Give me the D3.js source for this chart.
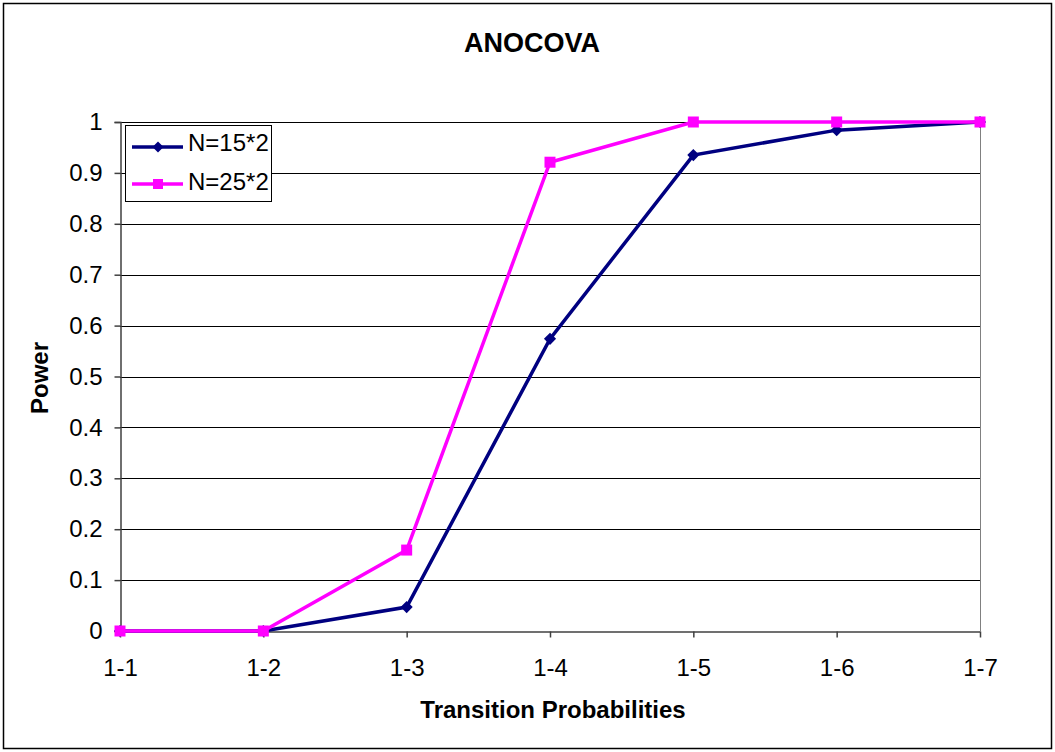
<!DOCTYPE html>
<html>
<head>
<meta charset="utf-8">
<script src="https://cdn.jsdelivr.net/npm/d3@7"></script>
<style>
  body { margin: 0; background: #fff; }
  text { font-family: Arial, "Liberation Sans", sans-serif; }
</style>
</head>
<body>
<div id="chart"></div>
<script>
// Data
const categories = ['1-1', '1-2', '1-3', '1-4', '1-5', '1-6', '1-7'];
const n15 = [0, 0, 0.047, 0.574, 0.935, 0.984, 1.0];
const n25 = [0, 0, 0.159, 0.921, 1.0, 1.0, 1.0];
const yTicks = [0, 0.1, 0.2, 0.3, 0.4, 0.5, 0.6, 0.7, 0.8, 0.9, 1];

const series = [
  { name: 'N=15*2', values: n15, color: '#000080', marker: 'diamond' },
  { name: 'N=25*2', values: n25, color: '#ff00ff', marker: 'square' }
];

const width = 1055, height = 752;
const margin = { left: 120, right: 75, top: 122, bottom: 121 };
const font = 'Arial, "Liberation Sans", sans-serif';

const svg = d3.select('#chart').append('svg')
  .attr('width', width)
  .attr('height', height);

// Outer chart border
svg.append('rect')
  .attr('x', 3.5).attr('y', 3.5)
  .attr('width', width - 7).attr('height', height - 7)
  .attr('fill', '#fff')
  .attr('stroke', '#000')
  .attr('stroke-width', 1.5);

const x = d3.scalePoint()
  .domain(categories)
  .range([margin.left, width - margin.right]);

const y = d3.scaleLinear()
  .domain([0, 1])
  .range([height - margin.bottom, margin.top]);

// Gridlines
svg.append('g')
  .selectAll('line')
  .data(yTicks.filter(d => d > 0))
  .enter().append('line')
  .attr('x1', margin.left).attr('x2', width - margin.right)
  .attr('y1', d => Math.round(y(d)) + 0.5)
  .attr('y2', d => Math.round(y(d)) + 0.5)
  .attr('stroke', '#000')
  .attr('stroke-width', 1);

// Plot area right border
svg.append('line')
  .attr('x1', width - margin.right + 0.5).attr('x2', width - margin.right + 0.5)
  .attr('y1', margin.top).attr('y2', height - margin.bottom)
  .attr('stroke', '#808080');

// Y axis
const yAxis = svg.append('g')
  .attr('transform', `translate(${margin.left + 0.5},0)`)
  .call(d3.axisLeft(y).tickValues(yTicks).tickFormat(d3.format('~g')).tickSize(6).tickPadding(12));
yAxis.selectAll('text').attr('font-size', 24).attr('fill', '#000').attr('font-family', font);
yAxis.selectAll('line,path').attr('stroke', '#404040').attr('stroke-width', 1.5);

// X axis
const xAxis = svg.append('g')
  .attr('transform', `translate(0,${Math.round(y(0)) + 0.5})`)
  .call(d3.axisBottom(x).tickSize(6).tickSizeOuter(0).tickPadding(21));
xAxis.selectAll('text').attr('font-size', 24).attr('fill', '#000').attr('font-family', font);
xAxis.selectAll('line,path').attr('stroke', '#404040').attr('stroke-width', 1.5);

// Lines
const line = d3.line()
  .x((d, i) => x(categories[i]))
  .y(d => y(d));

function drawMarker(g, type, color, cx, cy, s) {
  if (type === 'diamond') {
    g.append('path')
      .attr('d', `M0,${-s * 0.55}L${s * 0.55},0L0,${s * 0.55}L${-s * 0.55},0Z`)
      .attr('transform', `translate(${cx},${cy})`)
      .attr('fill', color);
  } else {
    g.append('rect')
      .attr('x', cx - s / 2).attr('y', cy - s / 2)
      .attr('width', s).attr('height', s)
      .attr('fill', color);
  }
}

series.forEach(s => {
  const g = svg.append('g');
  g.append('path')
    .datum(s.values)
    .attr('d', line)
    .attr('fill', 'none')
    .attr('stroke', s.color)
    .attr('stroke-width', 3.5);
  s.values.forEach((v, i) => drawMarker(g, s.marker, s.color, x(categories[i]), y(v), 11));
});

// Title
svg.append('text')
  .attr('x', 532).attr('y', 52)
  .attr('text-anchor', 'middle')
  .attr('font-size', 27).attr('font-weight', 'bold')
  .text('ANOCOVA');

// Axis titles
svg.append('text')
  .attr('x', 553).attr('y', 718)
  .attr('text-anchor', 'middle')
  .attr('font-size', 24).attr('font-weight', 'bold')
  .text('Transition Probabilities');

svg.append('text')
  .attr('transform', 'translate(48,378) rotate(-90)')
  .attr('text-anchor', 'middle')
  .attr('font-size', 24).attr('font-weight', 'bold')
  .text('Power');

// Legend
const legend = svg.append('g').attr('transform', 'translate(125,125)');
legend.append('rect')
  .attr('x', 0.5).attr('y', 0.5)
  .attr('width', 146).attr('height', 76)
  .attr('fill', '#fff')
  .attr('stroke', '#000')
  .attr('stroke-width', 1);

series.forEach((s, i) => {
  const ly = 22 + i * 37;
  legend.append('line')
    .attr('x1', 7).attr('x2', 58)
    .attr('y1', ly).attr('y2', ly)
    .attr('stroke', s.color)
    .attr('stroke-width', 3.5);
  drawMarker(legend, s.marker, s.color, 33, ly, 10);
  legend.append('text')
    .attr('x', 63).attr('y', ly + 4 + i * 2)
    .attr('font-size', 24)
    .text(s.name);
});
</script>
</body>
</html>
